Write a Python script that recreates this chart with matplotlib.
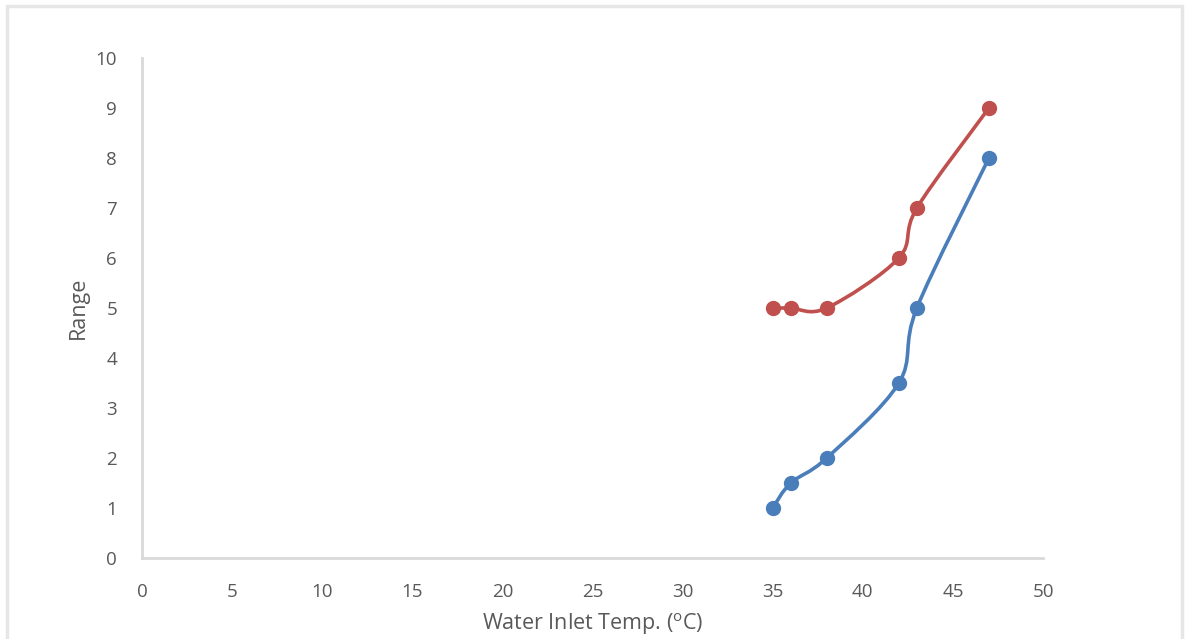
import matplotlib
matplotlib.use("Agg")
import matplotlib.pyplot as plt
from matplotlib.path import Path
from matplotlib.patches import PathPatch, Rectangle
import numpy as np

x_temp = [35, 36, 38, 42, 43, 47]
series_blue = [1, 1.5, 2, 3.5, 5, 8]
series_red = [5, 5, 5, 6, 7, 9]
x_ticks = [0, 5, 10, 15, 20, 25, 30, 35, 40, 45, 50]
y_ticks = [0, 1, 2, 3, 4, 5, 6, 7, 8, 9, 10]

BLUE = "#4a7ebb"
RED = "#c0504d"
GRAY_TXT = "#595959"
GRAY_LINE = "#d9d9d9"

plt.rcParams['font.family'] = ['Open Sans', 'DejaVu Sans']
plt.rcParams['mathtext.fontset'] = 'custom'
plt.rcParams['mathtext.rm'] = 'Open Sans'

fig = plt.figure(figsize=(11.85, 6.39), dpi=100)
ax = fig.add_axes([142/1185, 1-558/639, (1043-142)/1185, (558-58)/639])

# figure border
fig.patches.append(Rectangle((7/1185, -0.05), (1182-7)/1185, 1.05 - 6/639,
                             transform=fig.transFigure, fill=False,
                             edgecolor="#e6e6e6", linewidth=2.5))


def smooth_path(xs, ys):
    p = np.column_stack([xs, ys]).astype(float)
    n = len(p)
    verts = [p[0]]
    codes = [Path.MOVETO]
    for i in range(n - 1):
        p0 = p[i - 1] if i > 0 else p[i]
        p1 = p[i]
        p2 = p[i + 1]
        p3 = p[i + 2] if i + 2 < n else p[i + 1]
        c1 = p1 + (p2 - p0) / 6.0
        c2 = p2 - (p3 - p1) / 6.0
        verts += [c1, c2, p2]
        codes += [Path.CURVE4] * 3
    return Path(verts, codes)


for ys, col in [(series_blue, BLUE), (series_red, RED)]:
    ax.add_patch(PathPatch(smooth_path(x_temp, ys), facecolor="none",
                           edgecolor=col, linewidth=2.6, capstyle="round",
                           joinstyle="round", zorder=2))
    ax.plot(x_temp, ys, linestyle="none", marker="o", markersize=10,
            color=col, zorder=3)

ax.set_xlim(0, 50)
ax.set_ylim(0, 10)
ax.set_xticks(x_ticks)
ax.set_yticks(y_ticks)
ax.tick_params(length=0, labelsize=13.5, labelcolor=GRAY_TXT)
ax.tick_params(axis='x', pad=18)
ax.tick_params(axis='y', pad=18)
for s in ["top", "right"]:
    ax.spines[s].set_visible(False)
for s in ["left", "bottom"]:
    ax.spines[s].set_color(GRAY_LINE)
    ax.spines[s].set_linewidth(2)

ax.set_xlabel(r'Water Inlet Temp. ($^{\mathrm{o}}$C)', fontsize=15.5,
              color=GRAY_TXT, labelpad=7)
ax.set_ylabel('Range', fontsize=15.5, color=GRAY_TXT, labelpad=5)

fig.savefig("out.png", dpi=100, facecolor="white")
